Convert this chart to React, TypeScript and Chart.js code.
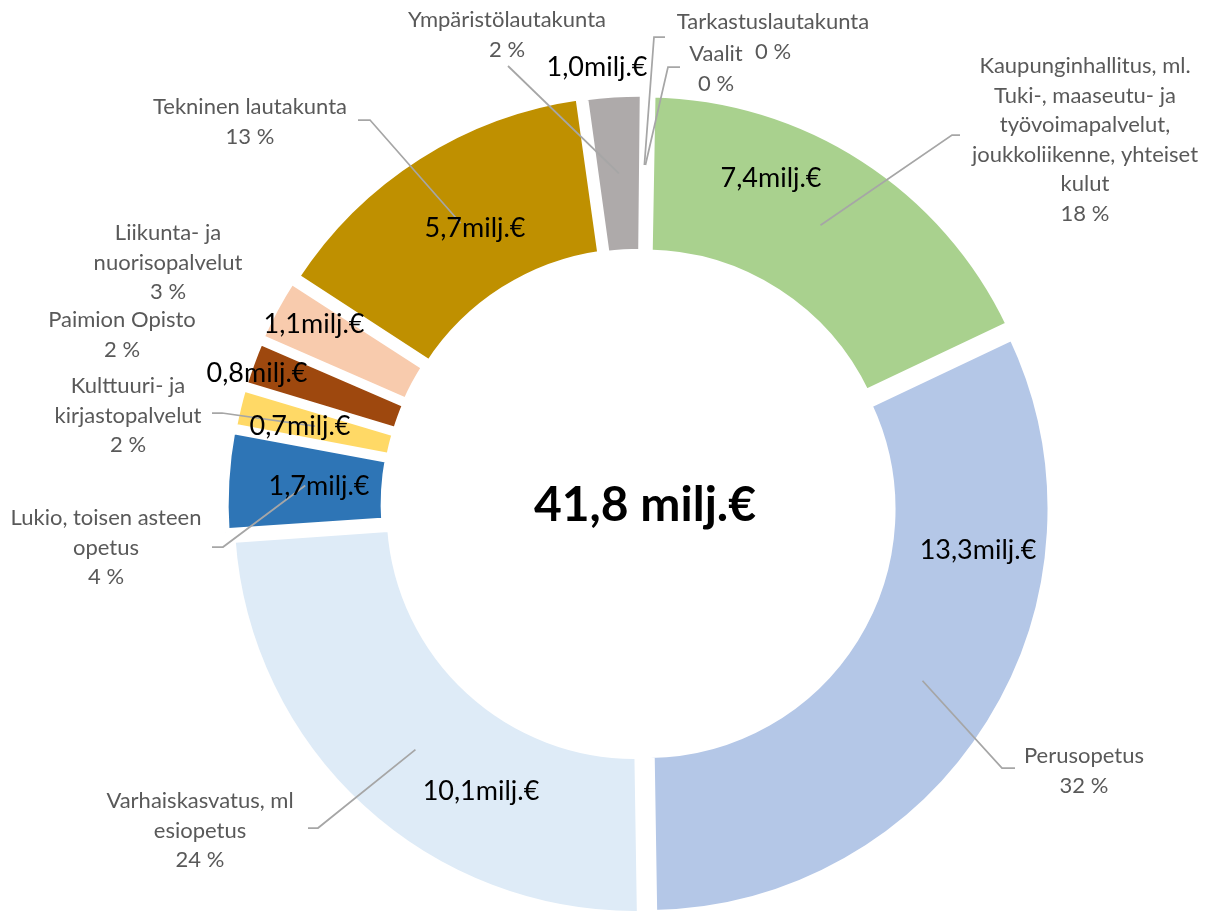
import React, { useEffect, useRef } from 'react';
import { Chart, registerables } from 'chart.js';

Chart.register(...registerables);

// ---------- data ----------
const categories: string[] = [
  'Kaupunginhallitus, ml.\nTuki-, maaseutu- ja\ntyövoimapalvelut,\njoukkoliikenne, yhteiset\nkulut',
  'Perusopetus',
  'Varhaiskasvatus, ml\nesiopetus',
  'Lukio, toisen asteen\nopetus',
  'Kulttuuri- ja\nkirjastopalvelut',
  'Paimion Opisto',
  'Liikunta- ja\nnuorisopalvelut',
  'Tekninen lautakunta',
  'Ympäristölautakunta',
  'Tarkastuslautakunta',
  'Vaalit',
];
const valuesMeur: number[] = [7.4, 13.3, 10.1, 1.7, 0.7, 0.8, 1.1, 5.7, 1.0, 0.02, 0.02];
const percentLabels: string[] = ['18 %', '32 %', '24 %', '4 %', '2 %', '2 %', '3 %', '13 %', '2 %', '0 %', '0 %'];
const totalLabel = '41,8 milj.€';

// ---------- styles ----------
const sliceColors: string[] = [
  '#A9D18E', '#B4C7E7', '#DEEBF7', '#2E75B6', '#FFD966', '#9E480E',
  '#F8CBAD', '#BF9000', '#AEAAAA', '#7F6000', '#C55A11',
];
// explosion per slice (chart.js translates arcs by offset / 4)
const sliceOffsets: number[] = [32, 32, 32, 26, 22, 22, 24, 32, 18, 32, 32];
const FONT = 'Lato, "Noto Sans", sans-serif';

// ---------- label layout (text positions, baselines) ----------
const valueLabelPos: ([number, number] | null)[] = [
  [771, 187], [978, 559], [481, 800], [319, 495], [300, 435], [257, 382],
  [314, 333], [475, 237], [597, 76], null, null,
];
const catLabelPos: [number, number][] = [
  [1085, 73], [1084, 763], [200, 808], [106, 525], [128, 393], [122, 327],
  [168, 240], [250, 114], [507, 27], [773, 29], [716, 61],
];
const leaderStart: ([number, number][] | null)[] = [
  [[960, 135], [952, 135]],
  [[1015, 768], [1002, 768]],
  [[308, 828], [318, 828]],
  [[212, 547], [223, 547]],
  [[212, 413], [222, 413]],
  null,
  null,
  [[358, 120], [370, 120]],
  [[508, 66]],
  [[665, 37], [654, 37]],
  [[680, 67], [668, 67]],
];
const LINE_H = 29.5;

const labelPlugin = {
  id: 'excelLabels',
  afterDatasetsDraw(chart: any) {
    const ctx: CanvasRenderingContext2D = chart.ctx;
    const meta = chart.getDatasetMeta(0);
    ctx.save();
    // leader lines, ending at each slice's centroid
    meta.data.forEach((arc: any, i: number) => {
      const start = leaderStart[i];
      if (!start) return;
      const p = arc.getProps(['x', 'y', 'startAngle', 'endAngle', 'innerRadius', 'outerRadius'], true);
      const mid = (p.startAngle + p.endAngle) / 2;
      const shift = sliceOffsets[i] / 4;
      const fix = 1 - Math.sin(Math.min(Math.PI, p.endAngle - p.startAngle));
      const r = (p.innerRadius + p.outerRadius) / 2 + shift + shift * fix;
      const ex = p.x + Math.cos(mid) * r;
      const ey = p.y + Math.sin(mid) * r;
      ctx.beginPath();
      ctx.moveTo(start[0][0], start[0][1]);
      for (let k = 1; k < start.length; k++) ctx.lineTo(start[k][0], start[k][1]);
      ctx.lineTo(ex, ey);
      ctx.strokeStyle = '#A6A6A6';
      ctx.lineWidth = 1.75;
      ctx.stroke();
    });
    // value labels
    ctx.textAlign = 'center';
    ctx.textBaseline = 'alphabetic';
    ctx.fillStyle = '#000000';
    ctx.font = `27px ${FONT}`;
    valuesMeur.forEach((v, i) => {
      const pos = valueLabelPos[i];
      if (!pos) return;
      const txt = v.toFixed(1).replace('.', ',') + 'milj.€';
      ctx.fillText(txt, pos[0], pos[1]);
    });
    // category labels
    ctx.fillStyle = '#595959';
    ctx.font = `22px ${FONT}`;
    categories.forEach((c, i) => {
      const lines = c.split('\n').concat([percentLabels[i]]);
      const [x, y] = catLabelPos[i];
      lines.forEach((ln, k) => ctx.fillText(ln, x, y + k * LINE_H));
    });
    // centre total
    const c0 = meta.data[0];
    ctx.fillStyle = '#000000';
    ctx.font = `bold 48px ${FONT}`;
    ctx.fillText(totalLabel, c0.x + 5, c0.y + 16);
    ctx.restore();
  },
};

export default function App() {
  const ref = useRef<HTMLCanvasElement | null>(null);
  useEffect(() => {
    if (!ref.current) return;
    const chart = new Chart(ref.current, {
      type: 'doughnut',
      data: {
        labels: categories.map((c) => c.replace(/\n/g, ' ')),
        datasets: [
          {
            data: valuesMeur,
            backgroundColor: sliceColors,
            borderColor: '#ffffff',
            borderWidth: 8,
            offset: sliceOffsets,
            hoverOffset: 0,
          },
        ],
      },
      options: {
        responsive: false,
        animation: false,
        events: [],
        devicePixelRatio: 1,
        radius: 404,
        cutout: '60.4%',
        rotation: 1,
        layout: { padding: { left: 70, right: 0, top: 97, bottom: 0 } },
        plugins: { legend: { display: false }, tooltip: { enabled: false } },
      } as any,
      plugins: [labelPlugin],
    });
    return () => chart.destroy();
  }, []);
  return (
    <div style={{ position: 'absolute', left: 0, top: 0, width: 1210, height: 913, background: '#fff' }}>
      <canvas ref={ref} width={1210} height={913} style={{ width: 1210, height: 913 }} />
    </div>
  );
}
